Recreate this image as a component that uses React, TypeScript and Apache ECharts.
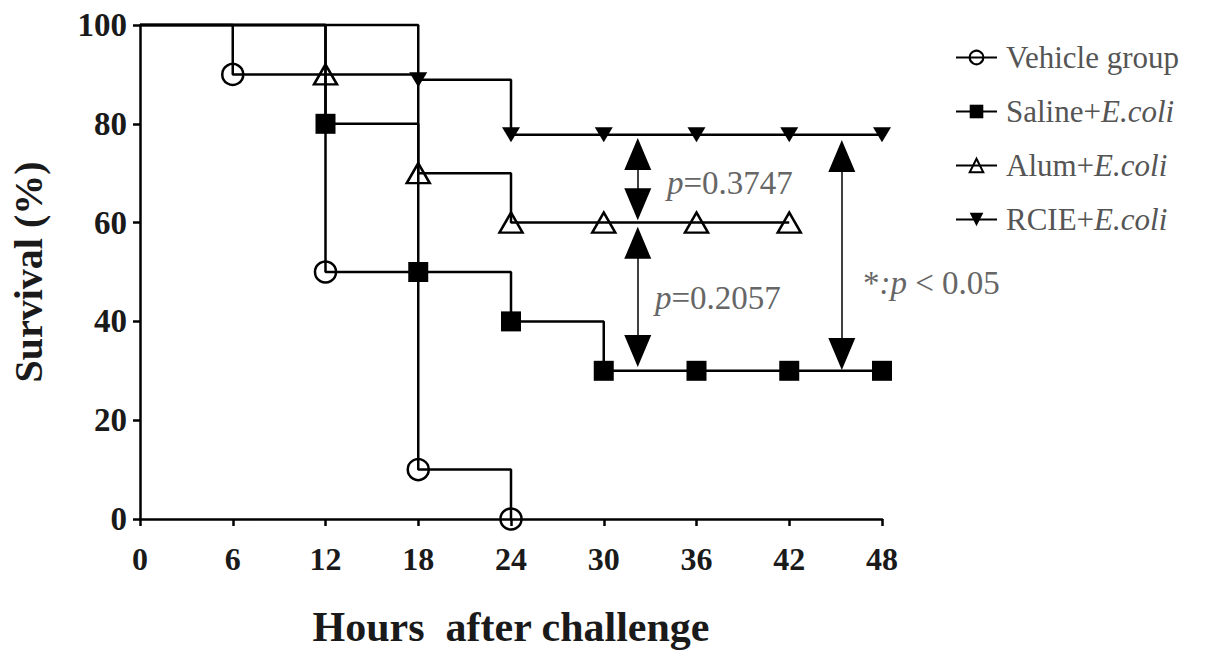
import React, { useEffect, useRef } from "react";
import * as echarts from "echarts";

const xTicks = [0, 6, 12, 18, 24, 30, 36, 42, 48];
const seriesNames = ["Vehicle group", "Saline+E.coli", "Alum+E.coli", "RCIE+E.coli"];
const legendLabels = ["Vehicle group", "Saline+{i|E.coli}", "Alum+{i|E.coli}", "RCIE+{i|E.coli}"];

const vehicleHours = [0, 6, 12, 18, 24];
const vehicleSurvival = [100, 90, 50, 10, 0];

const salineHours = [0, 12, 18, 24, 30, 36, 42, 48];
const salineSurvival = [100, 80, 50, 40, 30, 30, 30, 30];

const alumHours = [0, 12, 18, 24, 30, 36, 42];
const alumSurvival = [100, 90, 70, 60, 60, 60, 60];

const rcieHours = [0, 18, 24, 30, 36, 42, 48];
const rcieSurvival = [100, 88.9, 77.8, 77.8, 77.8, 77.8, 77.8];

// comparison arrows: [x, from, to] (triangle centers)
const arrows = [
  [32.2, 73.9, 63.7],
  [32.2, 55.9, 34.0],
  [45.4, 73.5, 33.4],
];

const FONT = "'Liberation Serif', 'Times New Roman', serif";

function toData(hours: number[], vals: number[]) {
  return hours.map((h, i) =>
    i === 0 ? { value: [h, vals[i]], symbol: "none" } : { value: [h, vals[i]] }
  );
}

export default function App() {
  const ref = useRef<HTMLDivElement>(null);
  useEffect(() => {
    if (!ref.current) return;
    const chart = echarts.init(ref.current, undefined, { renderer: "svg" });
    const lineStyle = { color: "#000", width: 2.5 };
    const base = {
      type: "line",
      step: "end",
      clip: false,
      lineStyle,
      emphasis: { disabled: true },
    };
    const option: any = {
      animation: false,
      backgroundColor: "#fff",
      grid: { left: 139, right: 323, top: 25, bottom: 144 },
      xAxis: {
        type: "value",
        min: 0,
        max: 48,
        interval: 6,
        name: "Hours  after challenge",
        nameLocation: "middle",
        nameGap: 87,
        nameTextStyle: { fontFamily: FONT, fontSize: 42, fontWeight: "bold", color: "#1a1a1a" },
        axisLine: { lineStyle: { color: "#000", width: 2.5 } },
        axisTick: { length: 7, lineStyle: { color: "#000", width: 2.5 } },
        axisLabel: {
          fontFamily: FONT,
          fontSize: 32,
          fontWeight: "bold",
          color: "#1a1a1a",
          margin: 24,
          formatter: (v: number) => (xTicks.includes(v) ? String(v) : ""),
        },
        splitLine: { show: false },
      },
      yAxis: {
        type: "value",
        min: 0,
        max: 100,
        interval: 20,
        name: "Survival (%)",
        nameLocation: "middle",
        nameRotate: 90,
        nameGap: 92,
        nameTextStyle: { fontFamily: FONT, fontSize: 40, fontWeight: "bold", color: "#1a1a1a" },
        axisLine: { show: true, lineStyle: { color: "#000", width: 2.5 } },
        axisTick: { show: true, length: 7, lineStyle: { color: "#000", width: 2.5 } },
        axisLabel: { fontFamily: FONT, fontSize: 33, fontWeight: "bold", color: "#1a1a1a", margin: 13 },
        splitLine: { show: false },
      },
      legend: {
        orient: "vertical",
        left: 950,
        top: 37,
        itemWidth: 41,
        itemHeight: 17,
        itemGap: 23,
        data: seriesNames,
        formatter: (name: string) => legendLabels[seriesNames.indexOf(name)],
        textStyle: {
          fontFamily: FONT,
          fontSize: 31,
          color: "#555",
          padding: [0, 0, 0, 4],
          rich: {
            i: { fontFamily: FONT, fontSize: 31, color: "#555", fontStyle: "italic" },
          },
        },
      },
      series: [
        {
          ...base,
          name: seriesNames[0],
          symbol: "circle",
          symbolSize: 21,
          itemStyle: { color: "rgba(0,0,0,0)", borderColor: "#000", borderWidth: 2.5 },
          data: toData(vehicleHours, vehicleSurvival),
        },
        {
          ...base,
          name: seriesNames[1],
          symbol: "rect",
          symbolSize: 20,
          itemStyle: { color: "#000" },
          data: toData(salineHours, salineSurvival),
        },
        {
          ...base,
          name: seriesNames[2],
          symbol: "triangle",
          symbolSize: [23, 20],
          itemStyle: { color: "rgba(0,0,0,0)", borderColor: "#000", borderWidth: 2.5 },
          data: toData(alumHours, alumSurvival),
        },
        {
          ...base,
          name: seriesNames[3],
          symbol: "triangle",
          symbolRotate: 180,
          symbolSize: [18, 15],
          itemStyle: { color: "#000" },
          data: toData(rcieHours, rcieSurvival),
          markLine: {
            silent: true,
            symbol: ["triangle", "triangle"],
            symbolSize: [27, 32],
            label: { show: false },
            lineStyle: { color: "#000", width: 1.5, type: "solid" },
            emphasis: { disabled: true },
            data: arrows.map(([x, a, b]) => [{ coord: [x, a] }, { coord: [x, b] }]),
          },
        },
      ],
      graphic: [
        {
          type: "text",
          left: 667,
          top: 166,
          style: {
            text: "{i|p}=0.3747",
            fontFamily: FONT,
            fontSize: 33,
            fill: "#666",
            rich: { i: { fontFamily: FONT, fontSize: 33, fill: "#666", fontStyle: "italic" } },
          },
        },
        {
          type: "text",
          left: 655,
          top: 281,
          style: {
            text: "{i|p}=0.2057",
            fontFamily: FONT,
            fontSize: 33,
            fill: "#666",
            rich: { i: { fontFamily: FONT, fontSize: 33, fill: "#666", fontStyle: "italic" } },
          },
        },
        {
          type: "text",
          left: 863,
          top: 266,
          style: {
            text: "*{i|:p} < 0.05",
            fontFamily: FONT,
            fontSize: 33,
            fill: "#666",
            rich: { i: { fontFamily: FONT, fontSize: 33, fill: "#666", fontStyle: "italic" } },
          },
        },
      ],
    };
    chart.setOption(option);
    return () => chart.dispose();
  }, []);
  return (
    <div
      ref={ref}
      style={{ position: "fixed", left: 0, top: 0, width: 1205, height: 663, background: "#fff" }}
    />
  );
}
